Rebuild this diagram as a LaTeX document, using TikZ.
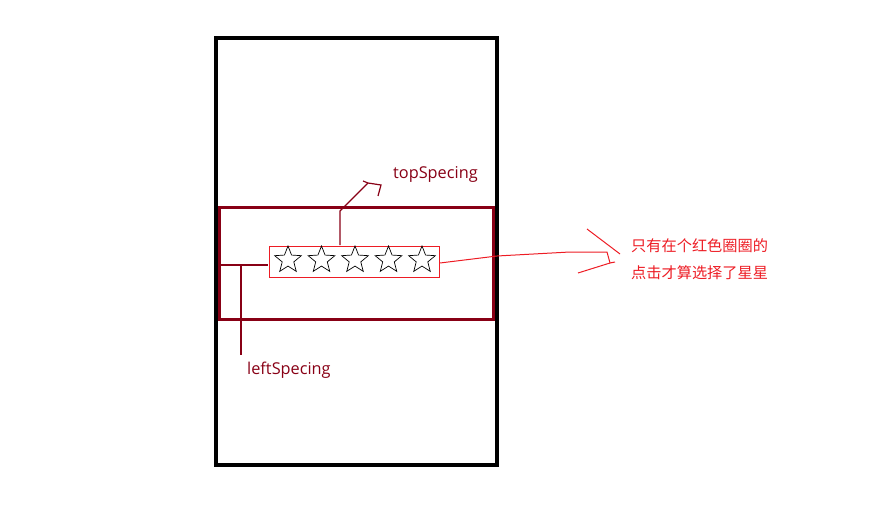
\documentclass[tikz,border=0pt]{standalone}
\usepackage{fontspec}
\setmainfont{Open Sans}
\newfontfamily\cjk{Noto Sans CJK SC}
\usetikzlibrary{shapes.geometric}
\definecolor{paintdark}{HTML}{880015}
\definecolor{paintred}{HTML}{ED1C24}
\tikzset{
  starshape/.style={star, star points=5, star point ratio=2.3, draw=black, line width=0.7pt, minimum size=28pt, inner sep=0pt},
  darkline/.style={draw=paintdark, line width=1.2pt},
  redline/.style={draw=paintred, line width=1pt},
  lbl/.style={text=paintdark, font=\fontsize{16.3}{19}\selectfont, inner sep=0pt, anchor=west},
  cjklbl/.style={text=paintred, font=\cjk\fontsize{15.2}{18}\selectfont, inner sep=0pt, anchor=west}
}
\begin{document}
\begin{tikzpicture}[x=1pt,y=-1pt]
\useasboundingbox (0,0) rectangle (888,505);
% outer phone frame
\node[draw=black, line width=4pt, minimum width=281pt, minimum height=427pt, inner sep=0pt] (frame) at (356.5,251.5) {};
% dark red region
\node[draw=paintdark, line width=3pt, minimum width=274pt, minimum height=112pt, inner sep=0pt] (region) at (356,263) {};
% small red rating bar
\node[draw=paintred, line width=1pt, minimum width=170pt, minimum height=31pt, inner sep=0pt] (bar) at (354,262) {};
% stars
\foreach \i/\x in {1/288,2/321.5,3/355,4/388.5,5/422}
  \node[starshape] (s\i) at (\x,260) {};
% left spacing marker
\coordinate (la) at (221,265);
\coordinate (lb) at (268,265);
\coordinate (lc) at (241,265);
\coordinate (ld) at (241,355);
\draw[darkline] (la) -- (lb);
\draw[darkline] (lc) -- (ld);
\node[lbl] (lefttxt) at (247,370) {leftSpecing};
% top spacing marker
\coordinate (ta) at (340,245);
\coordinate (tb) at (340,211);
\coordinate (tc) at (355,196);
\coordinate (td) at (368,183);
\coordinate (te) at (363,181);
\coordinate (tf) at (381,185);
\coordinate (tg) at (378,196);
\draw[darkline] (ta) -- (tb) -- (tc) -- (td);
\draw[darkline] (te) -- (td) -- (tf) -- (tg);
\node[lbl] (toptxt) at (393,174) {topSpecing};
% right pointer
\coordinate (ra) at (440,263);
\coordinate (rb) at (497,256);
\coordinate (rc) at (570,252);
\coordinate (rd) at (607,252);
\coordinate (re) at (610,263);
\coordinate (rf) at (587,229);
\coordinate (rg) at (620,254);
\coordinate (rh) at (615,262);
\coordinate (ri) at (578,273);
\draw[redline] (ra) -- (rb) -- (rc) -- (rd) -- (re) -- (rh);
\draw[redline] (rf) -- (rg);
\draw[redline] (re) -- (ri);
\node[cjklbl] (note1) at (631,246) {只有在个红色圈圈的};
\node[cjklbl] (note2) at (631,273) {点击才算选择了星星};
\end{tikzpicture}
\end{document}
